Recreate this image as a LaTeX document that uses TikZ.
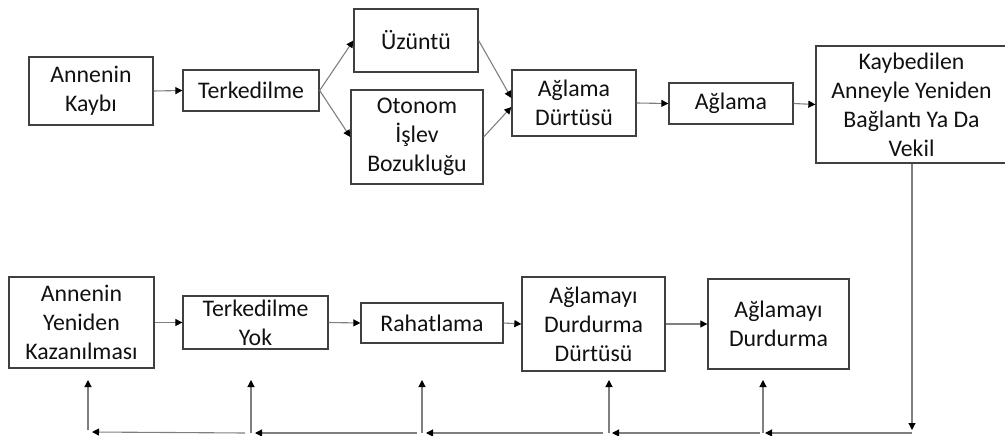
\documentclass[tikz,border=0pt]{standalone}
\usepackage{fontspec}
\setmainfont{Carlito}
\usetikzlibrary{arrows.meta}
\definecolor{boxline}{HTML}{404040}
\definecolor{conline}{HTML}{7F7F7F}
\definecolor{txt}{HTML}{111111}
\begin{document}
\begin{tikzpicture}[x=1pt,y=-1pt,
  box/.style={draw=boxline,line width=1.3pt,inner sep=0pt,align=center,text=txt,
    font=\fontsize{23.8}{29}\selectfont},
  con/.style={draw=conline,line width=1.1pt,-{Triangle[length=7pt,width=7pt]},
    arrows={[color=black]}}]
\useasboundingbox (0,0) rectangle (1005,436);
% top row
\node[box,minimum width=124pt,minimum height=68pt] (ak) at (91,91) {Annenin\\Kaybı};
\node[box,minimum width=136pt,minimum height=41pt] (tk) at (251,90.5) {Terkedilme};
\node[box,minimum width=124pt,minimum height=63pt] (uz) at (416,40.5) {Üzüntü};
\node[box,minimum width=132pt,minimum height=94pt] (ot) at (417,137) {Otonom\\İşlev\\Bozukluğu};
\node[box,minimum width=124pt,minimum height=66pt] (ad) at (574,103) {Ağlama\\Dürtüsü};
\node[box,minimum width=124pt,minimum height=41pt] (ag) at (731,103.5) {Ağlama};
\node[box,minimum width=191pt,minimum height=117pt] (kb) at (911.5,104.5) {Kaybedilen\\Anneyle Yeniden\\Bağlantı Ya Da\\Vekil};
% bottom row
\node[box,minimum width=145pt,minimum height=91pt] (ay) at (81.5,322.5) {Annenin\\Yeniden\\Kazanılması};
\node[box,minimum width=145pt,minimum height=53pt] (ty) at (255.5,322.5) {Terkedilme\\Yok};
\node[box,minimum width=142pt,minimum height=40pt] (rh) at (432,323) {Rahatlama};
\node[box,minimum width=143pt,minimum height=94pt] (dd) at (593.5,324) {Ağlamayı\\Durdurma\\Dürtüsü};
\node[box,minimum width=141pt,minimum height=90pt] (du) at (778.5,324) {Ağlamayı\\Durdurma};
% top connectors
\draw[con] (ak.east) -- (tk.west);
\draw[con] (tk.east) -- (uz.west);
\draw[con] (tk.east) -- (ot.west);
\draw[con] (uz.east) -- ([yshift=5pt]ad.west);
\draw[con] (ot.east) -- ([yshift=-4pt]ad.west);
\draw[con] (ad.east) -- (ag.west);
\draw[con] (ag.east) -- (kb.west);
% bottom connectors
\draw[con] (ay.east) -- (ty.west);
\draw[con] (ty.east) -- (rh.west);
\draw[con] (rh.east) -- (dd.west);
\draw[con] (dd.east) -- (du.west);
% feedback
\coordinate (k0) at (912,430);
\coordinate (h0) at (912,433);
\coordinate (h1a) at (765,433); \coordinate (v1b) at (763,433); \coordinate (v1t) at (763,380);
\coordinate (h2s) at (760,433); \coordinate (h2a) at (612,433); \coordinate (v2b) at (609,433); \coordinate (v2t) at (609,380);
\coordinate (h3s) at (603,433); \coordinate (h3a) at (426,433); \coordinate (v3b) at (422,433); \coordinate (v3t) at (422,380);
\coordinate (h4s) at (417,433); \coordinate (h4a) at (255,433); \coordinate (v4b) at (251,433); \coordinate (v4t) at (251,380);
\coordinate (h5s) at (245,433); \coordinate (h5a) at (92,432); \coordinate (v5b) at (88,430); \coordinate (v5t) at (88,380);
\draw[con] (kb.south -| k0) -- (k0);
\draw[con] (h0) -- (h1a);
\draw[con] (v1b) -- (v1t);
\draw[con] (h2s) -- (h2a);
\draw[con] (v2b) -- (v2t);
\draw[con] (h3s) -- (h3a);
\draw[con] (v3b) -- (v3t);
\draw[con] (h4s) -- (h4a);
\draw[con] (v4b) -- (v4t);
\draw[con] (h5s) -- (h5a);
\draw[con] (v5b) -- (v5t);
\end{tikzpicture}
\end{document}
